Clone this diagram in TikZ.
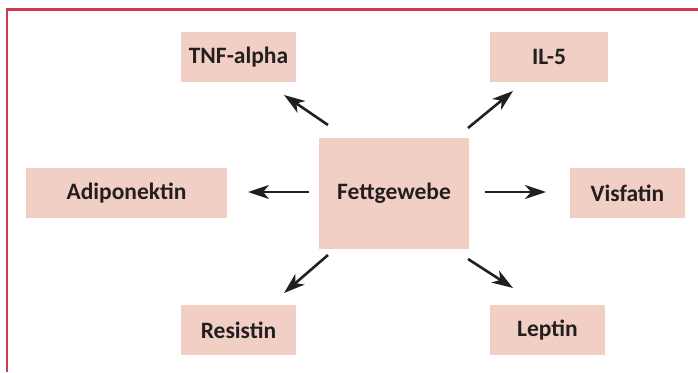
\documentclass[tikz,border=0pt]{standalone}
\usepackage{fontspec}
\setmainfont{Carlito}
\usetikzlibrary{arrows.meta}
\definecolor{boxfill}{HTML}{F2CFC4}
\definecolor{ink}{HTML}{231F20}
\definecolor{frame}{HTML}{D03A4C}
\tikzset{
  cbox/.style={fill=boxfill, draw=none, inner sep=0pt, text=ink,
    font=\fontsize{23.5}{27}\selectfont\bfseries},
  harrow/.style={draw=ink, line width=2.6pt,
    -{Stealth[length=21pt, width=14pt, inset=6pt]}}
}
\begin{document}
\begin{tikzpicture}[x=1pt,y=-1pt]
\useasboundingbox (0,0) rectangle (698,372);
\draw[frame, line width=2.2pt] (7,372) -- (7,9.5) -- (698,9.5);
\node[cbox, minimum width=115pt, minimum height=50pt] (tnf) at (238.5,57) {TNF-alpha};
\node[cbox, minimum width=118pt, minimum height=50pt] (il5) at (549,57) {IL-5};
\node[cbox, minimum width=201pt, minimum height=50pt] (adi) at (126.5,193) {Adiponektin};
\node[cbox, minimum width=150pt, minimum height=111pt] (fett) at (394,193.5) {Fettgewebe};
\node[cbox, minimum width=115pt, minimum height=50pt] (vis) at (627.5,193) {Visfatin};
\node[cbox, minimum width=115pt, minimum height=50pt] (res) at (238.5,330) {Resistin};
\node[cbox, minimum width=115pt, minimum height=50pt] (lep) at (547.5,330) {Leptin};
\coordinate (tnfS) at (328,125); \coordinate (tnfE) at (284,95);
\coordinate (il5S) at (468,128); \coordinate (il5E) at (513,91);
\coordinate (adiS) at (309,192); \coordinate (adiE) at (248,192);
\coordinate (visS) at (485,192); \coordinate (visE) at (546,192);
\coordinate (resS) at (328,255); \coordinate (resE) at (284,293);
\coordinate (lepS) at (468,259); \coordinate (lepE) at (513,288);
\draw[harrow] (tnfS) -- (tnfE);
\draw[harrow] (il5S) -- (il5E);
\draw[harrow] (adiS) -- (adiE);
\draw[harrow] (visS) -- (visE);
\draw[harrow] (resS) -- (resE);
\draw[harrow] (lepS) -- (lepE);
\end{tikzpicture}
\end{document}
